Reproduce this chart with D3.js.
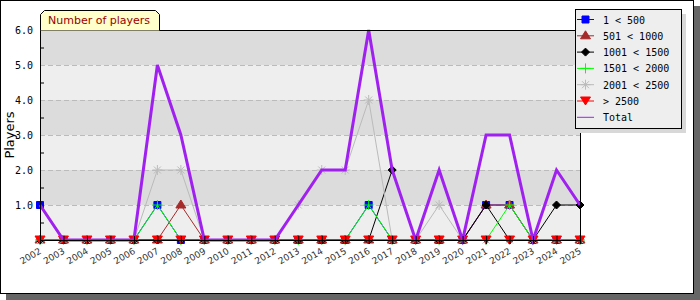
<!DOCTYPE html>
<html>
<head>
<meta charset="utf-8">
<script src="https://cdn.jsdelivr.net/npm/d3@7"></script>
<style>
  body { margin: 0; background: #fff; }
  svg { display: block; }
</style>
</head>
<body>
<svg id="chart" width="700" height="300"></svg>
<script>
const years = d3.range(2002, 2026)
const yTicks = [1, 2, 3, 4, 5, 6]

const s1to500 =     [1,0,0,0,0,1,0,0,0,0,0,0,0,0,1,0,0,0,0,1,1,0,0,0]
const s501to1000 =  [0,0,0,0,0,0,1,0,0,0,0,0,0,0,0,0,0,0,0,1,1,0,0,0]
const s1001to1500 = [0,0,0,0,0,0,0,0,0,0,0,0,0,0,0,2,0,0,0,1,0,0,1,1]
const s1501to2000 = [0,0,0,0,0,1,0,0,0,0,0,0,0,0,1,0,0,0,0,0,1,0,0,0]
const s2001to2500 = [0,0,0,0,0,2,2,0,0,0,0,1,2,2,4,0,0,1,0,0,0,0,0,0]
const sOver2500 =   [0,0,0,0,0,0,0,0,0,0,0,0,0,0,0,0,0,0,0,0,0,0,0,0]
const total =       [1,0,0,0,0,5,3,0,0,0,0,1,2,2,6,2,0,2,0,3,3,0,2,1]

const series = [
  { name: '1 < 500', values: s1to500, color: '#0000ff', marker: 'square' },
  { name: '501 < 1000', values: s501to1000, color: '#a52a2a', marker: 'triUp' },
  { name: '1001 < 1500', values: s1001to1500, color: '#000000', marker: 'diamond' },
  { name: '1501 < 2000', values: s1501to2000, color: '#00ff00', marker: 'plus' },
  { name: '2001 < 2500', values: s2001to2500, color: '#bbbbbb', marker: 'star' },
  { name: '> 2500', values: sOver2500, color: '#ff0000', marker: 'triDown' }
]

const svg = d3.select('#chart')
const pL = 40, pR = 580, pT = 30, pB = 240

const x = d3.scaleLinear().domain([2002, 2025]).range([pL, pR])
const y = d3.scaleLinear().domain([0, 6]).range([pB, pT])

// frame with shadow
svg.append('rect').attr('x', 6).attr('y', 6).attr('width', 694).attr('height', 294).attr('fill', '#666')
svg.append('rect').attr('x', 0.5).attr('y', 0.5).attr('width', 693).attr('height', 293)
  .attr('fill', '#fff').attr('stroke', '#000')

// bands
const plot = svg.append('g')
d3.range(0, 6).forEach(i => {
  plot.append('rect')
    .attr('x', pL).attr('y', y(i + 1))
    .attr('width', pR - pL).attr('height', y(i) - y(i + 1))
    .attr('fill', i % 2 === 0 ? '#eeeeee' : '#dcdcdc')
})
yTicks.slice(0, -1).forEach(v => {
  plot.append('line')
    .attr('x1', pL).attr('x2', pR).attr('y1', y(v) + 0.5).attr('y2', y(v) + 0.5)
    .attr('stroke', '#bbb').attr('stroke-dasharray', '5,3')
})
// minor ticks inward
d3.range(0.5, 6, 1).forEach(v => {
  plot.append('line')
    .attr('x1', pL).attr('x2', pL + 4).attr('y1', y(v) + 0.5).attr('y2', y(v) + 0.5)
    .attr('stroke', '#000')
})

const symbolPath = (type) => {
  switch (type) {
    case 'square': return 'M-3.5,-3.5h7v7h-7z'
    case 'triUp': return 'M0,-5L5,3H-5z'
    case 'triDown': return 'M0,4L5,-4H-5z'
    case 'diamond': return 'M0,-4L4,0L0,4L-4,0z'
    case 'plus': return 'M-5,0H5M0,-5V5'
    case 'star': return 'M-5,0H5M0,-5V5M-3.5,-3.5L3.5,3.5M-3.5,3.5L3.5,-3.5'
  }
}
const isStroke = t => t === 'plus' || t === 'star'

const line = d3.line().x((d, i) => x(years[i])).y(d => y(d))

series.forEach(s => {
  const g = plot.append('g')
  g.append('path').datum(s.values)
    .attr('d', line).attr('fill', 'none')
    .attr('stroke', s.color).attr('stroke-width', 1)
  g.selectAll('path.m').data(s.values).enter().append('path')
    .attr('class', 'm')
    .attr('transform', (d, i) => `translate(${x(years[i])},${y(d)})`)
    .attr('d', symbolPath(s.marker))
    .attr('fill', isStroke(s.marker) ? 'none' : s.color)
    .attr('stroke', s.color).attr('stroke-width', 1)
})

// total drawn over the series
plot.append('path').datum(total)
  .attr('d', line).attr('fill', 'none')
  .attr('stroke', '#a020f0').attr('stroke-width', 3)

// plot border
svg.append('rect').attr('x', pL + 0.5).attr('y', pT + 0.5)
  .attr('width', pR - pL).attr('height', pB - pT)
  .attr('fill', 'none').attr('stroke', '#000')

// x ticks
years.forEach(yr => {
  svg.append('line')
    .attr('x1', x(yr) + 0.5).attr('x2', x(yr) + 0.5)
    .attr('y1', pB - 4).attr('y2', pB + 4)
    .attr('stroke', '#000')
  svg.append('text')
    .attr('transform', `translate(${x(yr) + 2},${pB + 13}) rotate(-30)`)
    .attr('text-anchor', 'end')
    .attr('font-family', 'DejaVu Sans').attr('font-size', 9)
    .attr('fill', '#333')
    .text(yr)
})

// y tick labels
yTicks.forEach(v => {
  svg.append('text')
    .attr('x', 33).attr('y', y(v) + 4)
    .attr('text-anchor', 'end')
    .attr('font-family', 'DejaVu Sans Mono').attr('font-size', 10)
    .attr('fill', '#000')
    .text(v.toFixed(1))
})

svg.append('text')
  .attr('transform', `translate(14,135) rotate(-90)`)
  .attr('text-anchor', 'middle')
  .attr('font-family', 'DejaVu Sans').attr('font-size', 13)
  .attr('fill', '#000')
  .text('Players')

// title tab
svg.append('path')
  .attr('d', `M${pL + 0.5},${pT + 0.5}V14.5L44.5,10.5H155.5L159.5,14.5V${pT + 0.5}`)
  .attr('fill', '#ffffcc').attr('stroke', '#000')
svg.append('text')
  .attr('x', 48).attr('y', 24)
  .attr('font-family', 'DejaVu Sans').attr('font-size', 11)
  .attr('fill', '#990000')
  .text('Number of players')

// legend
const lx = 575, ly = 9, lw = 106, lh = 119
svg.append('rect').attr('x', lx + 5).attr('y', ly + 5).attr('width', lw).attr('height', lh).attr('fill', '#d8d8d8')
svg.append('rect').attr('x', lx + 0.5).attr('y', ly + 0.5).attr('width', lw).attr('height', lh)
  .attr('fill', '#eeeeee').attr('stroke', '#000')

const legendItems = series.concat([{ name: 'Total', color: '#a020f0', marker: null }])
legendItems.forEach((s, i) => {
  const cy = ly + 10.5 + i * 16.3
  const g = svg.append('g').attr('transform', `translate(0,${cy})`)
  g.append('line').attr('x1', lx + 2).attr('x2', lx + 19).attr('y1', 0).attr('y2', 0)
    .attr('stroke', s.color).attr('stroke-width', 1)
  if (s.marker) {
    g.append('path')
      .attr('transform', `translate(${lx + 10.5},0)`)
      .attr('d', symbolPath(s.marker))
      .attr('fill', isStroke(s.marker) ? 'none' : s.color)
      .attr('stroke', s.color)
  }
  g.append('text')
    .attr('x', lx + 28).attr('y', 4)
    .attr('font-family', 'DejaVu Sans Mono').attr('font-size', 10)
    .attr('fill', '#000')
    .text(s.name)
})
</script>
</body>
</html>
